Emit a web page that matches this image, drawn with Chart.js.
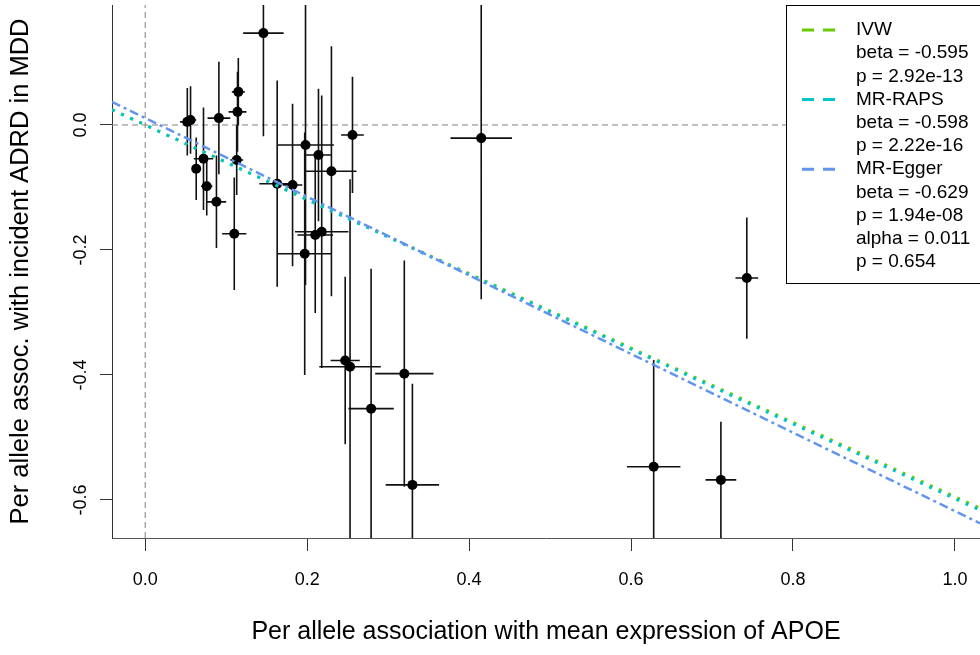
<!DOCTYPE html>
<html>
<head>
<meta charset="utf-8">
<script src="https://cdn.jsdelivr.net/npm/chart.js@4.4.1/dist/chart.umd.min.js"></script>
<style>
  html, body { margin: 0; padding: 0; background: #fff; }
  #wrap { width: 980px; height: 655px; }
</style>
</head>
<body>
<div id="wrap"><canvas id="mr" width="980" height="655"></canvas></div>
<script>
// SNP effects
const snpX = [0.052, 0.056, 0.063, 0.072, 0.076, 0.088, 0.091, 0.110, 0.113, 0.114,
              0.115, 0.146, 0.163, 0.182, 0.198, 0.197, 0.210, 0.218, 0.214, 0.230,
              0.256, 0.247, 0.253, 0.320, 0.279, 0.330, 0.415, 0.628, 0.711, 0.743];
const snpY = [0.005, 0.008, -0.070, -0.054, -0.098, -0.123, 0.011, -0.174, -0.056, 0.021,
              0.053, 0.147, -0.094, -0.096, -0.032, -0.206, -0.176, -0.171, -0.048, -0.074,
              -0.016, -0.377, -0.387, -0.398, -0.454, -0.576, -0.021, -0.547, -0.568, -0.245];
// half widths of the error bars
const snpXErr = [0.009, 0.007, 0.005, 0.012, 0.007, 0.012, 0.014, 0.015, 0.008, 0.011,
                 0.008, 0.025, 0.022, 0.012, 0.035, 0.033, 0.022, 0.033, 0.016, 0.031,
                 0.014, 0.018, 0.038, 0.036, 0.028, 0.033, 0.038, 0.033, 0.019, 0.014];
const snpYErr = [0.054, 0.054, 0.050, 0.082, 0.047, 0.074, 0.090, 0.090, 0.056, 0.064,
                 0.054, 0.165, 0.165, 0.130, 0.224, 0.194, 0.125, 0.218, 0.106, 0.200,
                 0.093, 0.134, 0.300, 0.181, 0.224, 0.162, 0.258, 0.171, 0.093, 0.097];

const methods = ['IVW', 'MR-RAPS', 'MR-Egger'];
const methodBeta = [-0.595, -0.598, -0.629];
const methodIntercept = [0, 0, 0.011];
const methodColors = ['#66CC00', '#00C5CD', '#6495ED'];
const legendRows = ['IVW', 'beta = -0.595', 'p = 2.92e-13',
                    'MR-RAPS', 'beta = -0.598', 'p = 2.22e-16',
                    'MR-Egger', 'beta = -0.629', 'p = 1.94e-08', 'alpha = 0.011', 'p = 0.654'];
const legendMethodRows = [0, 3, 6];

const xRange = [-0.041, 1.031];
const yRange = [-0.661, 0.192];
const xTitle = 'Per allele association with mean expression of APOE';
const yTitle = 'Per allele assoc. with incident ADRD in MDD';

const FONT = '"Liberation Sans", Arial, sans-serif';
const fmt = v => (Math.abs(v) < 1e-9 ? 0 : v).toFixed(1);

// error bars as broken line segments
const gap = {x: NaN, y: NaN};
const bars = [];
snpX.forEach((x, i) => {
  const y = snpY[i];
  bars.push({x: x - snpXErr[i], y: y}, {x: x + snpXErr[i], y: y}, gap);
  bars.push({x: x, y: y - snpYErr[i]}, {x: x, y: y + snpYErr[i]}, gap);
});

const fitLine = (k) => xRange.map(x => ({x: x, y: methodIntercept[k] + methodBeta[k] * x}));

const dashes = [[3, 7], [3, 7], [9, 4, 3, 4]];
const fitSets = methods.map((m, k) => ({
  label: m,
  data: fitLine(k),
  showLine: true,
  borderColor: methodColors[k],
  borderWidth: k === 2 ? 2.5 : 3,
  borderDash: dashes[k],
  pointRadius: 0,
  order: 3 - k
}));

const extras = {
  id: 'extras',
  afterDraw(chart) {
    const {ctx, scales: {y}} = chart;
    ctx.save();
    ctx.fillStyle = '#000';
    ctx.font = '18px ' + FONT;
    ctx.textAlign = 'center';
    ctx.textBaseline = 'middle';
    y.ticks.forEach(t => {
      ctx.save();
      ctx.translate(81, y.getPixelForValue(t.value));
      ctx.rotate(-Math.PI / 2);
      ctx.fillText(fmt(t.value), 0, 0);
      ctx.restore();
    });

    // legend box
    const bx = 786, by = 5, bh = 278;
    ctx.fillStyle = '#fff';
    ctx.fillRect(bx, by, 240, bh);
    ctx.strokeStyle = '#000';
    ctx.lineWidth = 1;
    ctx.strokeRect(bx + 0.5, by + 0.5, 240, bh);
    ctx.textAlign = 'left';
    ctx.font = '19px ' + FONT;
    legendRows.forEach((txt, r) => {
      const ty = 30 + r * 23.2;
      ctx.fillStyle = '#000';
      ctx.fillText(txt, 856, ty);
      const k = legendMethodRows.indexOf(r);
      if (k >= 0) {
        ctx.strokeStyle = methodColors[k];
        ctx.lineWidth = 3;
        ctx.setLineDash([12, 9]);
        ctx.beginPath();
        ctx.moveTo(802, ty);
        ctx.lineTo(835, ty);
        ctx.stroke();
        ctx.setLineDash([]);
      }
    });
    ctx.restore();
  }
};

new Chart(document.getElementById('mr'), {
  type: 'scatter',
  data: {
    datasets: [
      ...fitSets,
      {
        label: 'SNPs',
        data: snpX.map((x, i) => ({x: x, y: snpY[i]})),
        pointRadius: 5,
        pointBackgroundColor: '#000',
        pointBorderWidth: 0,
        order: 4
      },
      {
        label: 'bars',
        data: bars,
        showLine: true,
        spanGaps: false,
        borderColor: '#111',
        borderWidth: 1.6,
        pointRadius: 0,
        order: 5
      },
      {
        label: 'zero-h',
        data: xRange.map(x => ({x: x, y: 0})),
        showLine: true,
        borderColor: '#808080',
        borderWidth: 1,
        borderDash: [6, 4],
        pointRadius: 0,
        order: 6
      },
      {
        label: 'zero-v',
        data: yRange.map(y => ({x: 0, y: y})),
        showLine: true,
        borderColor: '#808080',
        borderWidth: 1,
        borderDash: [6, 4],
        pointRadius: 0,
        order: 6
      }
    ]
  },
  options: {
    responsive: false,
    devicePixelRatio: 1,
    animation: false,
    layout: { autoPadding: false, padding: { top: 5, right: 0, bottom: 0, left: 0 } },
    plugins: { legend: { display: false }, tooltip: { enabled: false } },
    scales: {
      x: {
        type: 'linear',
        min: xRange[0],
        max: xRange[1],
        afterFit: scale => { scale.paddingRight = 0; scale.paddingLeft = 0; },
        ticks: {
          stepSize: 0.2,
          includeBounds: false,
          padding: 18,
          color: '#000',
          font: { family: FONT, size: 18 },
          callback: v => fmt(v)
        },
        grid: { drawOnChartArea: false, tickLength: 13, color: '#333' },
        border: { color: '#555' },
        title: {
          display: true,
          text: xTitle,
          color: '#000',
          font: { family: FONT, size: 25 },
          padding: { top: 8.4, bottom: 8 }
        }
      },
      y: {
        type: 'linear',
        min: yRange[0],
        max: yRange[1],
        ticks: { display: false, stepSize: 0.2, includeBounds: false },
        grid: { drawOnChartArea: false, tickLength: 12, color: '#333' },
        border: { color: '#333' },
        title: {
          display: true,
          text: yTitle,
          color: '#000',
          font: { family: FONT, size: 25.5 },
          padding: { top: 5.7, bottom: 63.7 }
        }
      }
    }
  },
  plugins: [extras]
});
</script>
</body>
</html>
